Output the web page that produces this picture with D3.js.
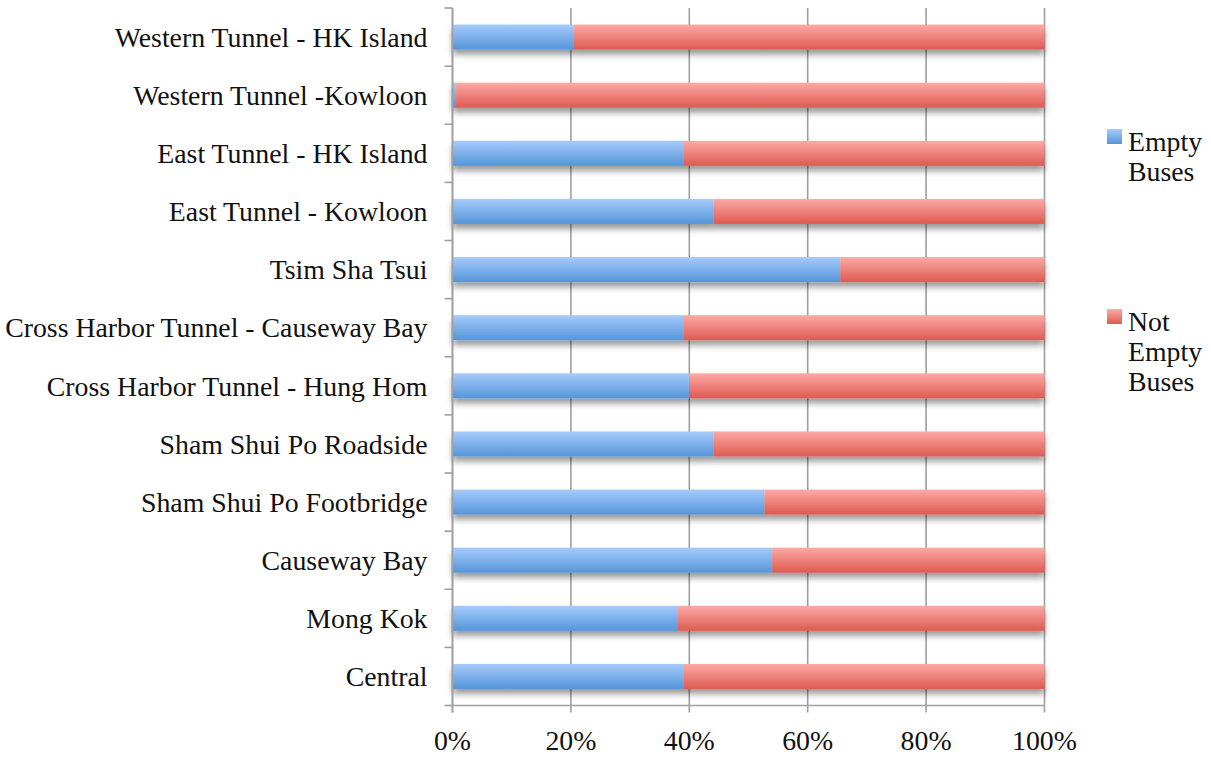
<!DOCTYPE html>
<html>
<head>
<meta charset="utf-8">
<script src="https://cdn.jsdelivr.net/npm/d3@7"></script>
<style>
  html, body { margin: 0; padding: 0; background: #fff; }
  svg { display: block; }
  text { font-family: "Liberation Serif", "Times New Roman", serif; fill: #111; }
</style>
</head>
<body>
<svg id="chart" width="1211" height="757"></svg>
<script>
// Bus survey sites, top to bottom
const categories = [
  "Western Tunnel - HK Island",
  "Western Tunnel -Kowloon",
  "East Tunnel - HK Island",
  "East Tunnel - Kowloon",
  "Tsim Sha Tsui",
  "Cross Harbor Tunnel - Causeway Bay",
  "Cross Harbor Tunnel - Hung Hom",
  "Sham Shui Po Roadside",
  "Sham Shui Po Footbridge",
  "Causeway Bay",
  "Mong Kok",
  "Central"
];
// Share of buses observed empty (%)
const emptyBuses = [20.4, 0.6, 39.1, 44.1, 65.5, 39.1, 40.0, 44.1, 52.7, 54.0, 38.1, 39.1];
// Share of buses carrying passengers (%)
const notEmptyBuses = emptyBuses.map(v => 100 - v);
const seriesNames = ["Empty Buses", "Not Empty Buses"];
const legendLines = [["Empty", "Buses"], ["Not", "Empty", "Buses"]];
const tickValues = [0, 20, 40, 60, 80, 100];

const svg = d3.select("#chart");
const margin = { left: 452.5, right: 1044.5, top: 8, bottom: 705.5 };
const fontSize = 27.8;

const x = d3.scaleLinear().domain([0, 100]).range([margin.left, margin.right]);
const y = d3.scaleBand().domain(categories).range([margin.top, margin.bottom])
  .paddingInner(0.57).paddingOuter(0.285);

const defs = svg.append("defs");
const grads = [
  { id: "gBlue", top: "#a6cbfb", bottom: "#5595da" },
  { id: "gRed", top: "#fdaaa6", bottom: "#de5a51" }
];
grads.forEach(g => {
  const lg = defs.append("linearGradient").attr("id", g.id)
    .attr("x1", 0).attr("y1", 0).attr("x2", 0).attr("y2", 1);
  lg.append("stop").attr("offset", "0%").attr("stop-color", g.top);
  lg.append("stop").attr("offset", "100%").attr("stop-color", g.bottom);
});
const sh = defs.append("filter").attr("id", "shadow")
  .attr("x", "-5%").attr("y", "-20%").attr("width", "110%").attr("height", "200%");
sh.append("feDropShadow").attr("dx", 0).attr("dy", 5).attr("stdDeviation", 3)
  .attr("flood-color", "#000").attr("flood-opacity", 0.4);

// vertical gridlines
svg.append("g").selectAll("line").data(tickValues).join("line")
  .attr("x1", d => x(d)).attr("x2", d => x(d))
  .attr("y1", margin.top).attr("y2", margin.bottom)
  .attr("stroke", "#9f9f9f").attr("stroke-width", 1.6);

// stacked bars
const stackData = categories.map((c, i) => ({ cat: c, empty: emptyBuses[i], notEmpty: notEmptyBuses[i] }));
const stacked = d3.stack().keys(["empty", "notEmpty"])(stackData);
const fills = ["url(#gBlue)", "url(#gRed)"];

const barG = svg.append("g").attr("filter", "url(#shadow)");
stacked.forEach((layer, k) => {
  barG.append("g").selectAll("rect").data(layer).join("rect")
    .attr("x", d => x(d[0]))
    .attr("width", d => x(d[1]) - x(d[0]))
    .attr("y", d => y(d.data.cat))
    .attr("height", y.bandwidth())
    .attr("fill", fills[k]);
});

// y axis
const yAxis = svg.append("g").attr("transform", `translate(${margin.left},0)`);
yAxis.append("line").attr("x1", 0).attr("x2", 0)
  .attr("y1", margin.top).attr("y2", margin.bottom + 7)
  .attr("stroke", "#9f9f9f").attr("stroke-width", 1.6);
const bandEdges = d3.range(categories.length + 1).map(i => margin.top + i * y.step());
yAxis.selectAll("line.tick").data(bandEdges).join("line").attr("class", "tick")
  .attr("x1", -8).attr("x2", 0).attr("y1", d => d).attr("y2", d => d)
  .attr("stroke", "#9f9f9f").attr("stroke-width", 1.6);
yAxis.selectAll("text").data(categories).join("text")
  .attr("x", -25).attr("y", d => y(d) + y.bandwidth() / 2)
  .attr("dy", "0.35em").attr("text-anchor", "end")
  .attr("font-size", fontSize).text(d => d);

// x axis
const xAxis = svg.append("g");
xAxis.append("line").attr("x1", margin.left).attr("x2", margin.right)
  .attr("y1", margin.bottom).attr("y2", margin.bottom)
  .attr("stroke", "#9f9f9f").attr("stroke-width", 1.6);
xAxis.selectAll("line.tick").data(tickValues).join("line").attr("class", "tick")
  .attr("x1", d => x(d)).attr("x2", d => x(d))
  .attr("y1", margin.bottom).attr("y2", margin.bottom + 7)
  .attr("stroke", "#9f9f9f").attr("stroke-width", 1.6);
xAxis.selectAll("text").data(tickValues).join("text")
  .attr("x", d => x(d)).attr("y", 750).attr("text-anchor", "middle")
  .attr("font-size", fontSize).text(d => d + "%");

// legend
const legend = svg.append("g");
const legendTops = [129, 309];
legendLines.forEach((lines, k) => {
  legend.append("rect").attr("x", 1107).attr("y", legendTops[k])
    .attr("width", 15).attr("height", 15).attr("fill", fills[k]);
  const t = legend.append("text").attr("x", 1128).attr("y", legendTops[k] + 22)
    .attr("font-size", fontSize);
  lines.forEach((ln, j) => {
    t.append("tspan").attr("x", 1128).attr("dy", j === 0 ? 0 : 30).text(ln);
  });
});
</script>
</body>
</html>
